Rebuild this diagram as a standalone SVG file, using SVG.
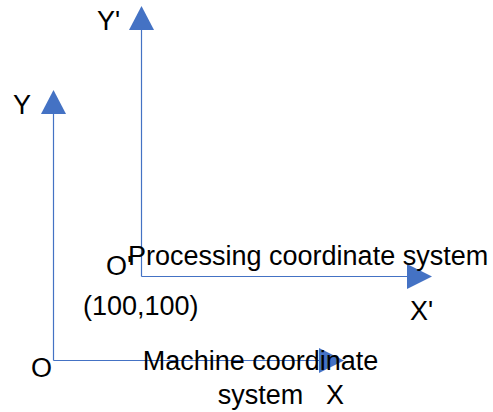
<svg xmlns="http://www.w3.org/2000/svg" width="493" height="412" viewBox="0 0 493 412">
<style>
.ax{stroke:#4472C4;stroke-width:1.2;fill:none}
.hd{fill:#4472C4;stroke:none}
text{font-family:"Liberation Sans",Arial,sans-serif;font-size:27px;fill:#000}
</style>
<rect width="493" height="412" fill="#fff"/>
<g id="connectors">
<path class="ax" d="M53.5,360.5 V112"/>
<path class="ax" d="M53.5,360.5 H320"/>
<path class="ax" d="M141.5,276.5 V28"/>
<path class="ax" d="M141.5,276.5 H408"/>
<polygon class="hd" points="53.5,90 41,114 66,114"/>
<polygon class="hd" points="141.5,6 129,30 154,30"/>
<polygon class="hd" points="432,276.5 407,264 407,289"/>
<polygon class="hd" points="344,360.5 319,348 319,373"/>
</g>
<g id="machine">
<text x="13" y="114">Y</text>
<text x="31" y="377">O</text>
<text x="326" y="404">X</text>
<text x="260.5" y="370" text-anchor="middle">Machine coordinate</text>
<text x="260.5" y="404" text-anchor="middle">system</text>
</g>
<g id="processing">
<text x="97" y="30">Y'</text>
<text x="106" y="275">O'</text>
<text x="128" y="265">Processing coordinate system</text>
<text x="83" y="315">(100,100)</text>
<text x="410" y="320">X'</text>
</g>
</svg>
